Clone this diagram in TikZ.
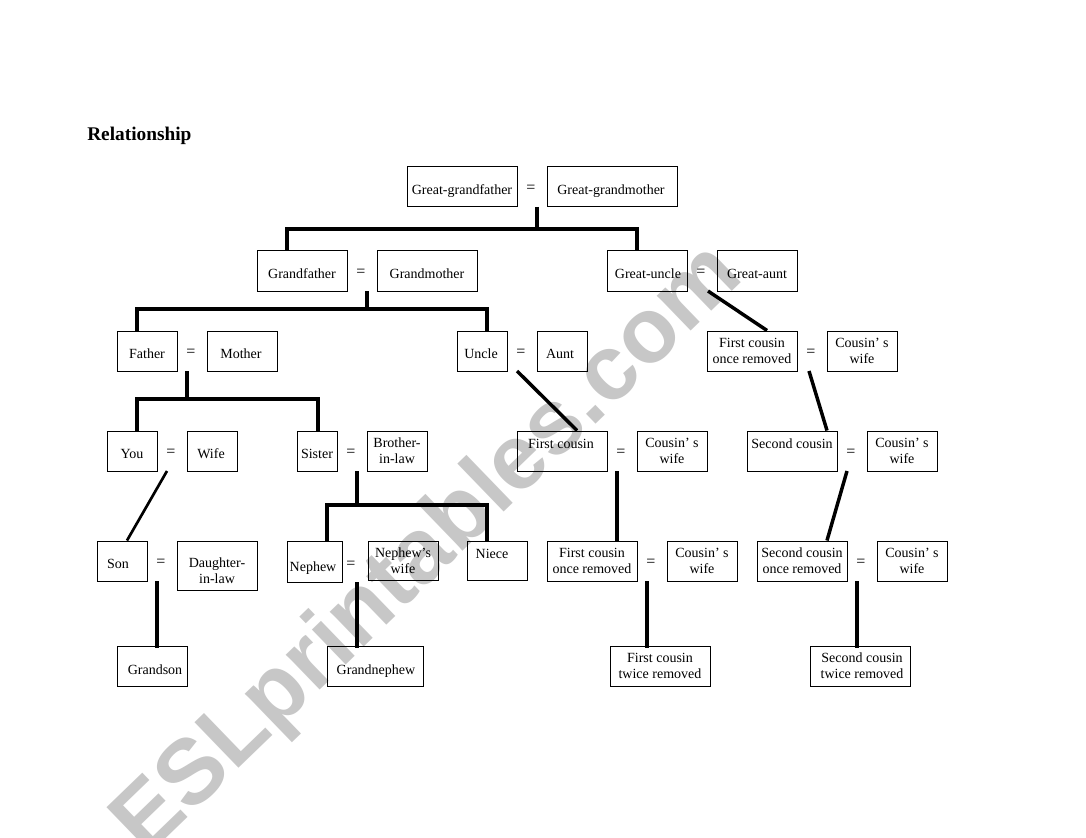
\documentclass[tikz,border=0pt]{standalone}
\usepackage{fontspec}
\setmainfont{Liberation Serif}
\newfontfamily\wmfont{Liberation Sans}
\newcommand\bx[5]{\node[box, minimum width={(#4-#2)*0.75pt}, minimum height={(#5-#3)*0.75pt}] (#1) at ({(#2+#4)/2},{(#3+#5)/2}) {};}
\begin{document}
\begin{tikzpicture}[x=0.75pt,y=-0.75pt,
  box/.style={draw=black, line width=0.75pt, inner sep=0pt, rectangle},
  lbl/.style={inner sep=0pt, font=\fontsize{10.5}{11.7}\selectfont, align=center, anchor=base},
  lbltwo/.style={inner sep=0pt, font=\fontsize{10.5}{11.7}\selectfont, align=center, anchor=north},
  eqs/.style={inner sep=0pt, font=\fontsize{12}{12}\selectfont},
  kin/.style={line width=3pt, line join=miter},
  diag/.style={line width=2.6pt},
  thindiag/.style={line width=2pt}]
\useasboundingbox (0,0) rectangle (1086,838);
\fill[white] (0,0) rectangle (1086,838);

% watermark
\node[rotate=44, anchor=base west, inner sep=0pt, text=black!22,
      font=\wmfont\bfseries\fontsize{69}{69}\selectfont] (wm) at (146,858) {ESLprintables.com};

% title
\node[anchor=base west, inner sep=0pt, font=\bfseries\fontsize{14.5}{14.5}\selectfont] (title) at (87,141) {Relationship};

% boxes
\bx{ggf}{407}{167}{517}{207}
\bx{ggm}{547}{167}{677}{207}
\bx{gf}{257}{251}{347}{291}
\bx{gm}{377}{251}{477}{291}
\bx{gu}{607}{251}{687}{291}
\bx{ga}{717}{251}{797}{291}
\bx{fa}{117}{331}{177}{371}
\bx{mo}{207}{331}{277}{371}
\bx{un}{457}{331}{507}{371}
\bx{au}{537}{331}{587}{371}
\bx{fcra}{707}{331}{797}{371}
\bx{cwa}{827}{331}{897}{371}
\bx{you}{107}{431}{157}{471}
\bx{wife}{187}{431}{237}{471}
\bx{sis}{297}{431}{337}{471}
\bx{bil}{367}{431}{427}{471}
\bx{fc}{517}{431}{607}{471}
\bx{cwb}{637}{431}{707}{471}
\bx{sc}{747}{431}{837}{471}
\bx{cwc}{867}{431}{937}{471}
\bx{son}{97}{541}{147}{581}
\bx{dil}{177}{541}{257}{590}
\bx{nep}{287}{541}{342}{582}
\bx{nw}{368}{541}{438}{580}
\bx{nie}{467}{541}{527}{580}
\bx{fcrb}{547}{541}{637}{581}
\bx{cwd}{667}{541}{737}{581}
\bx{scr}{757}{541}{847}{581}
\bx{cwe}{877}{541}{947}{581}
\bx{gs}{117}{646}{187}{686}
\bx{gn}{327}{646}{423}{686}
\bx{fctr}{610}{646}{710}{686}
\bx{sctr}{810}{646}{910}{686}

% labels
\node[lbl] (ggf-t) at (462,195) {Great-grandfather};
\node[lbl] (ggm-t) at (611,195) {Great-grandmother};
\node[lbl] (gf-t) at (302,278) {Grandfather};
\node[lbl] (gm-t) at (427,278) {Grandmother};
\node[lbl] (gu-t) at (648,279) {Great-uncle};
\node[lbl] (ga-t) at (757,279) {Great-aunt};
\node[lbl] (fa-t) at (147,358) {Father};
\node[lbl] (mo-t) at (241,358) {Mother};
\node[lbl] (un-t) at (481,358) {Uncle};
\node[lbl] (au-t) at (560,358) {Aunt};
\node[lbltwo] (fcra-t) at (752,338) {First cousin\\once removed};
\node[lbltwo] (cwa-t) at (862,338) {Cousin’ s\\wife};
\node[lbl] (you-t) at (132,458) {You};
\node[lbl] (wife-t) at (211,458) {Wife};
\node[lbl] (sis-t) at (317,458) {Sister};
\node[lbltwo] (bil-t) at (397,438) {Brother-\\in-law};
\node[lbl] (fc-t) at (561,448) {First cousin};
\node[lbltwo] (cwb-t) at (672,438) {Cousin’ s\\wife};
\node[lbl] (sc-t) at (792,448) {Second cousin};
\node[lbltwo] (cwc-t) at (902,438) {Cousin’ s\\wife};
\node[lbl] (son-t) at (118,568) {Son};
\node[lbltwo] (dil-t) at (217,558) {Daughter-\\in-law};
\node[lbl] (nep-t) at (313,571) {Nephew};
\node[lbltwo] (nw-t) at (403,548) {Nephew’s\\wife};
\node[lbl] (nie-t) at (492,558) {Niece};
\node[lbltwo] (fcrb-t) at (592,548) {First cousin\\once removed};
\node[lbltwo] (cwd-t) at (702,548) {Cousin’ s\\wife};
\node[lbltwo] (scr-t) at (802,548) {Second cousin\\once removed};
\node[lbltwo] (cwe-t) at (912,548) {Cousin’ s\\wife};
\node[lbl] (gs-t) at (155,674) {Grandson};
\node[lbl] (gn-t) at (376,674) {Grandnephew};
\node[lbltwo] (fctr-t) at (660,653) {First cousin\\twice removed};
\node[lbltwo] (sctr-t) at (862,653) {Second cousin\\twice removed};

% equals signs
\node[eqs] (e1) at (531,189) {=};
\node[eqs] (e2) at (361,273) {=};
\node[eqs] (e3) at (701,273) {=};
\node[eqs] (e4) at (191,353) {=};
\node[eqs] (e5) at (521,353) {=};
\node[eqs] (e6) at (811,353) {=};
\node[eqs] (e7) at (171,453) {=};
\node[eqs] (e8) at (351,453) {=};
\node[eqs] (e9) at (621,453) {=};
\node[eqs] (e10) at (851,453) {=};
\node[eqs] (e11) at (161,563) {=};
\node[eqs] (e12) at (351,565) {=};
\node[eqs] (e13) at (651,563) {=};
\node[eqs] (e14) at (861,563) {=};

% junction coordinates
\coordinate (m1) at (537,207);  \coordinate (j1) at (537,229);
\coordinate (d1) at (287,229);  \coordinate (d2) at (637,229);
\coordinate (m2) at (367,291);  \coordinate (j2) at (367,309);
\coordinate (d3) at (137,309);  \coordinate (d4) at (487,309);
\coordinate (m3) at (187,371);  \coordinate (j3) at (187,399);
\coordinate (d5) at (137,399);  \coordinate (d6) at (318,399);
\coordinate (m4) at (357,471);  \coordinate (j4) at (357,505);
\coordinate (d7) at (327,505);  \coordinate (d8) at (487,505);
\coordinate (s1) at (708,291);
\coordinate (s2) at (517,371);
\coordinate (s3) at (809,371);
\coordinate (s4) at (167,471);
\coordinate (s5) at (847,471);
\coordinate (v1) at (617,471);
\coordinate (v2) at (157,581);
\coordinate (v3) at (357,582);
\coordinate (v4) at (647,581);
\coordinate (v5) at (857,581);

% connectors
\draw[kin] (m1) -- (j1);
\draw[kin] (gf.north -| d1) |- (d2) -- (gu.north -| d2);
\draw[kin] (m2) -- (j2);
\draw[kin] (fa.north -| d3) |- (d4) -- (un.north -| d4);
\draw[kin] (m3) -- (j3);
\draw[kin] (you.north -| d5) |- (d6) -- (sis.north -| d6);
\draw[kin] (m4) -- (j4);
\draw[kin] (nep.north -| d7) |- (d8) -- (nie.north -| d8);
\draw[diag] (s1) -- ([xshift=15*0.75pt]fcra.north);
\draw[diag] (s2) -- ([xshift=15*0.75pt]fc.north);
\draw[diag] (s3) -- ([xshift=35*0.75pt]sc.north);
\draw[thindiag] (s4) -- ([xshift=5*0.75pt]son.north);
\draw[diag] (s5) -- ([xshift=25*0.75pt]scr.north);
\draw[kin] (v1) -- (fcrb.north -| v1);
\draw[kin] (v2) -- ([yshift=-2.5*0.75pt]gs.north -| v2);
\draw[kin] (v3) -- ([yshift=-2.5*0.75pt]gn.north -| v3);
\draw[kin] (v4) -- ([yshift=-2.5*0.75pt]fctr.north -| v4);
\draw[kin] (v5) -- ([yshift=-2.5*0.75pt]sctr.north -| v5);
\end{tikzpicture}
\end{document}
